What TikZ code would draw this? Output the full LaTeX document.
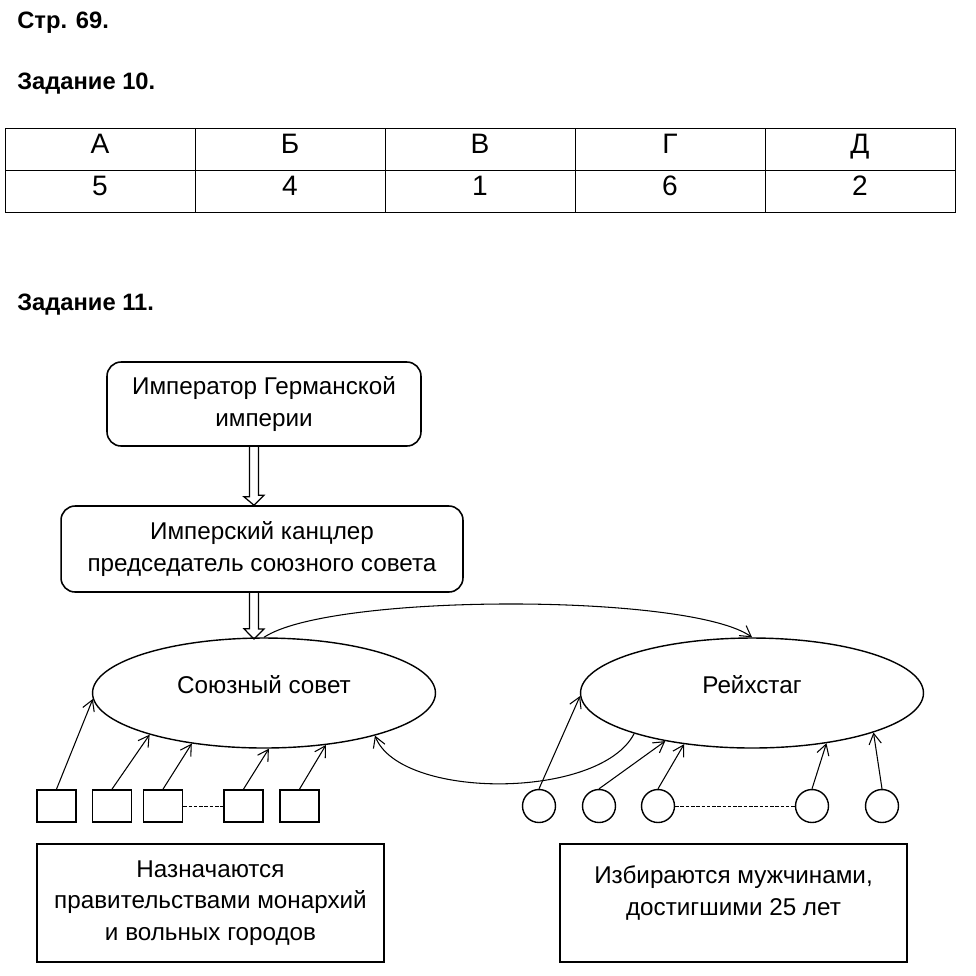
\documentclass[tikz,border=0pt]{standalone}
\usepackage{fontspec}
\setmainfont{Liberation Sans}
\usetikzlibrary{arrows.meta,shapes.geometric}

\begin{document}
\begin{tikzpicture}[
    x=0.02cm, y=-0.02cm,
    txt/.style={font=\fontsize{13.8}{17.8}\selectfont, align=center},
    heading/.style={anchor=west, inner sep=0pt, font=\fontsize{13.5}{16}\selectfont\bfseries},
    cell/.style={
        rectangle, draw, line width=0.5pt,
        minimum width=3.8cm, minimum height=0.84cm, inner sep=0pt,
        text height=11.5pt, text depth=6.8pt,
        font=\fontsize{16}{18}\selectfont
    },
    organ/.style={
        rectangle, rounded corners=8pt, draw, line width=0.9pt,
        inner sep=0pt, txt
    },
    chamber/.style={
        ellipse, draw, line width=0.8pt,
        minimum width=6.86cm, minimum height=2.2cm, inner sep=0pt,
        text height=9.9pt, text depth=9pt,
        font=\fontsize{13.8}{16}\selectfont
    },
    member/.style={rectangle, draw, line width=1pt, minimum width=0.78cm, minimum height=0.64cm, inner sep=0pt},
    voter/.style={circle, draw, line width=0.8pt, minimum size=0.66cm, inner sep=0pt},
    note/.style={
        rectangle, draw, line width=1pt,
        minimum width=6.94cm, minimum height=2.36cm, inner sep=0pt, txt
    },
    >={Straight Barb[length=6pt,width=7pt]},
    link/.style={->, line width=0.6pt},
    hollow/.style={line width=0.7pt, line join=miter}
]

\useasboundingbox (0,0) rectangle (976,975);

% headings
\node[heading] (page)  at (17,23)  {Стр. 69.};
\node[heading] (task10) at (17,84)  {Задание 10.};
\node[heading] (task11) at (17,305) {Задание 11.};

% table of task 10
\foreach \l/\v [count=\i] in {А/5, Б/4, В/1, Г/6, Д/2} {
    \node[cell] (head\i) at (5+190*\i-95,149) {\l};
    \node[cell] (val\i)  at (5+190*\i-95,191) {\v};
}

% scheme of task 11
\coordinate (axis) at (254,0);
\node[organ, minimum width=6.28cm, minimum height=1.68cm] (emperor)    at (264,404) {Император Германской\\империи};
\node[organ, minimum width=8.04cm, minimum height=1.72cm] (chancellor) at (262,549) {Имперский канцлер\\председатель союзного совета};
\node[chamber] (council)  at (264,693) {Союзный совет};
\node[chamber] (reichstag) at (752,693) {Рейхстаг};

% hollow block arrows
\draw[hollow] ([xshift=-0.09cm]emperor.south -| axis) -- ++(0,50) -- ++(-5.5,0)
    -- (chancellor.north -| axis) -- ++(10,-10) -- ++(-5.5,0) -- ++(0,-50);
\draw[hollow] ([xshift=-0.09cm]chancellor.south -| axis) -- ++(0,36) -- ++(-5.5,0)
    -- ([yshift=-1pt]council.north -| axis) -- ++(10,-10) -- ++(-5.5,0) -- ++(0,-36);

\draw[link] (council.north) .. controls (330,593) and (690,593) .. (reichstag.north);
\draw[link] (reichstag.199) .. controls (600,800) and (400,800) .. (council.339);

% delegates of the states
\node[member] (m1) at (56.5,806)  {};
\node[member] (m2) at (112,806)   {};
\node[member] (m3) at (163,806)   {};
\node[member] (m4) at (243.5,806) {};
\node[member] (m5) at (299.5,806) {};
\draw[dashed, line width=0.5pt, dash pattern=on 2pt off 1pt] (m3.east) -- (m4.west);

\draw[link] (m1.north) -- (council.182);
\draw[link] (m2.north) -- (council.200);
\draw[link] (m3.north) -- (council.215);
\draw[link] (m4.north) -- (council.275);
\draw[link] (m5.north) -- (council.320);

% voters
\node[voter] (v1) at (539,806) {};
\node[voter] (v2) at (599,806) {};
\node[voter] (v3) at (658,806) {};
\node[voter] (v4) at (812,806) {};
\node[voter] (v5) at (882,806) {};
\draw[dashed, line width=0.5pt, dash pattern=on 2pt off 1pt] (v3.east) -- (v4.west);

\draw[link] (v1.north) -- (reichstag.181);
\draw[link] (v2.north) -- (reichstag.209);
\draw[link] (v3.north) -- (reichstag.217);
\draw[link] (v4.north) -- (reichstag.326);
\draw[link] (v5.north) -- (reichstag.342);

% notes
\node[note] (appointed) at (210.5,903) {Назначаются\\правительствами монархий\\и вольных городов};
\node[note, label={[txt, yshift=0.2cm]center:{Избираются мужчинами,\\достигшими 25 лет}}] (elected) at (733.5,903) {};

\end{tikzpicture}
\end{document}
